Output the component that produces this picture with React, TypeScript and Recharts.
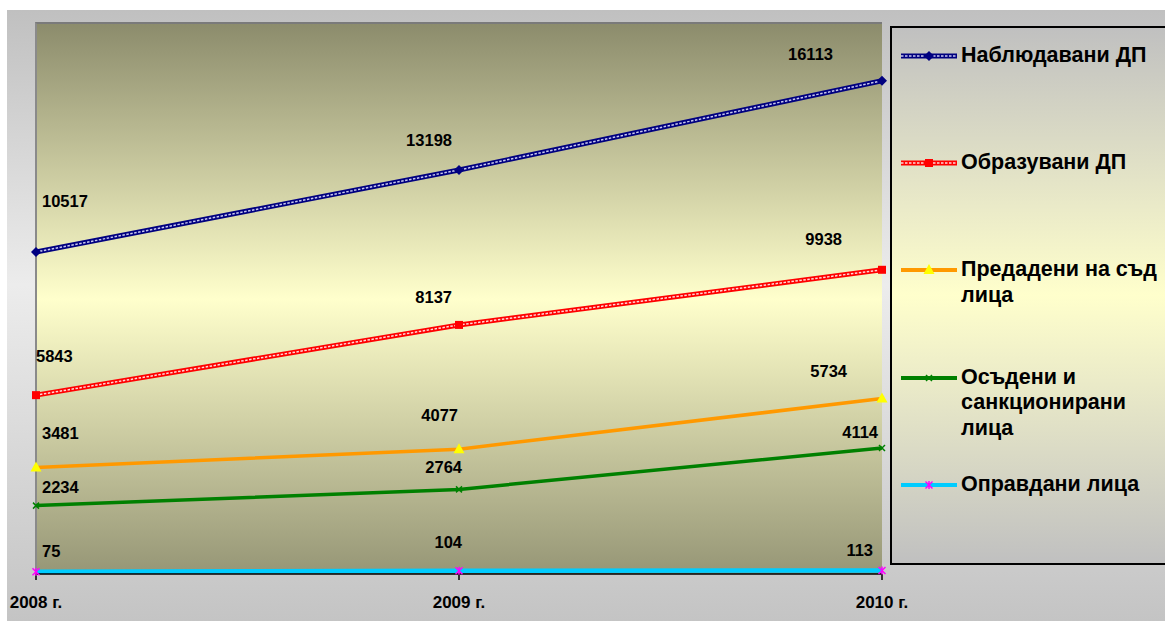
import React from 'react';
import { LineChart, Line, XAxis, YAxis, LabelList } from 'recharts';

const YEARS = ['2008 г.', '2009 г.', '2010 г.'];
const OBSERVED = [10517, 13198, 16113];
const INITIATED = [5843, 8137, 9938];
const REFERRED = [3481, 4077, 5734];
const CONVICTED = [2234, 2764, 4114];
const ACQUITTED = [75, 104, 113];

const NAMES = {
  observed: 'Наблюдавани ДП',
  initiated: 'Образувани ДП',
  referred: 'Предадени на съд лица',
  convicted: 'Осъдени и санкционирани лица',
  acquitted: 'Оправдани лица',
};

const data = YEARS.map((year, i) => ({
  year,
  observed: OBSERVED[i],
  initiated: INITIATED[i],
  referred: REFERRED[i],
  convicted: CONVICTED[i],
  acquitted: ACQUITTED[i],
}));

const FONT = '"Liberation Sans", Arial, sans-serif';

// label placement per series / point: [dx, dy, anchor]
const LABEL_POS: Record<string, Array<[number, number, string]>> = {
  observed: [[6, -51, 'start'], [-7, -30, 'end'], [-49, -27, 'end']],
  initiated: [[0, -39, 'start'], [-7, -28, 'end'], [-40, -31, 'end']],
  referred: [[6, -34, 'start'], [-1, -34, 'end'], [-35, -27, 'end']],
  convicted: [[6, -19, 'start'], [3, -22, 'end'], [-4, -16, 'end']],
  acquitted: [[6, -21, 'start'], [3, -29, 'end'], [-9, -21, 'end']],
};

const makeLabel = (key: string) => (props: any) => {
  const { x, y, value, index } = props;
  const [dx, dy, anchor] = LABEL_POS[key][index] || [0, -20, 'middle'];
  return (
    <text x={x + dx} y={y + dy + 6} textAnchor={anchor as any} fontFamily={FONT}
      fontWeight="bold" fontSize={16.5} fill="#000">
      {value}
    </text>
  );
};

const Marker = ({ kind, cx, cy }: { kind: string; cx: number; cy: number }) => {
  if (cx == null || cy == null) return null;
  switch (kind) {
    case 'diamond':
      return <polygon points={`${cx},${cy - 5} ${cx + 5},${cy} ${cx},${cy + 5} ${cx - 5},${cy}`} fill="#000080" />;
    case 'square':
      return <rect x={cx - 4} y={cy - 4} width={8} height={8} fill="#ff0000" />;
    case 'triangle':
      return <polygon points={`${cx},${cy - 6} ${cx + 5.5},${cy + 4} ${cx - 5.5},${cy + 4}`} fill="#ffff00" />;
    case 'x':
      return (
        <g stroke="#008000" strokeWidth={1.5}>
          <line x1={cx - 3} y1={cy - 3} x2={cx + 3} y2={cy + 3} />
          <line x1={cx - 3} y1={cy + 3} x2={cx + 3} y2={cy - 3} />
        </g>
      );
    default:
      return (
        <g stroke="#ff00ff" strokeWidth={1.5}>
          <line x1={cx - 3.5} y1={cy - 3.5} x2={cx + 3.5} y2={cy + 3.5} />
          <line x1={cx - 3.5} y1={cy + 3.5} x2={cx + 3.5} y2={cy - 3.5} />
          <line x1={cx} y1={cy - 4} x2={cx} y2={cy + 4} />
        </g>
      );
  }
};

const SERIES = [
  { key: 'observed', color: '#000080', hatch: '#c8c8f0', width: 5, marker: 'diamond', lines: ['Наблюдавани ДП'] },
  { key: 'initiated', color: '#ff0000', hatch: '#ffd8d8', width: 5, marker: 'square', lines: ['Образувани ДП'] },
  { key: 'referred', color: '#ff9900', hatch: null, width: 3.5, marker: 'triangle', lines: ['Предадени на съд', 'лица'] },
  { key: 'convicted', color: '#008000', hatch: null, width: 3.5, marker: 'x', lines: ['Осъдени и', 'санкционирани', 'лица'] },
  { key: 'acquitted', color: '#00ccff', hatch: null, width: 4.5, marker: 'star', lines: ['Оправдани лица'] },
];

const YearTick = (props: any) => {
  const { x, y, payload } = props;
  return (
    <text x={x} y={y + 26} textAnchor="middle" fontFamily={FONT} fontWeight="bold"
      fontSize={17} fill="#000">
      {payload.value}
    </text>
  );
};

const LegendBox = () => (
  <div style={{
    position: 'absolute', left: 890, top: 26, width: 280, height: 535, border: '2px solid #000',
    background: 'linear-gradient(to bottom, #c0c0c0 0%, #ffffcc 50%, #c0c0c0 100%)',
    fontFamily: FONT, fontWeight: 'bold', fontSize: 21.5, color: '#000',
  }}>
    {SERIES.map((s) => (
      <div key={s.key} style={{ height: 107.2, position: 'relative' }}>
        <svg width={60} height={12} style={{ position: 'absolute', left: 7, top: 22 }}>
          <line x1={2} y1={6} x2={58} y2={6} stroke={s.color} strokeWidth={s.hatch ? 5 : 4} />
          {s.hatch && <line x1={2} y1={6} x2={58} y2={6} stroke={s.hatch} strokeWidth={1.5} strokeDasharray="2.5 1.5" />}
          <Marker kind={s.marker} cx={30} cy={6} />
        </svg>
        <div style={{ position: 'absolute', left: 69, top: 15, lineHeight: '25.5px', whiteSpace: 'nowrap' }}>
          {s.lines.map((l) => <div key={l}>{l}</div>)}
        </div>
      </div>
    ))}
  </div>
);

export default function App() {
  return (
    <div style={{ position: 'absolute', left: 0, top: 0, width: 1165, height: 621, background: '#fff', overflow: 'hidden' }}>
      <div style={{
        position: 'absolute', left: 7, top: 10, width: 1158, height: 611,
        background: 'linear-gradient(to bottom, #c0c0c0 0%, #ececec 45%, #c4c4c4 100%)',
      }} />
      <div style={{
        position: 'absolute', left: 35, top: 22, width: 847, height: 552,
        borderTop: '2px solid #7a7a7a', borderLeft: '2px solid #8a8a8a', boxSizing: 'border-box',
        background: 'linear-gradient(to bottom, #8c8c6c 0%, #ffffcc 50%, #969676 100%)',
      }} />
      <LegendBox />
      <div style={{ position: 'absolute', left: 0, top: 0 }}>
        <LineChart width={1165} height={621} data={data}
          margin={{ top: 23, right: 283, left: 36, bottom: 17 }} style={{ overflow: 'visible' }}>
          <XAxis dataKey="year" stroke="#000" strokeWidth={1.5} tickSize={6} tick={<YearTick />}
            tickLine={{ stroke: '#000' }} height={30} interval={0} />
          <YAxis hide domain={[0, 18000]} />
          {SERIES.map((s) => (
            <Line key={s.key} dataKey={s.key} name={NAMES[s.key as keyof typeof NAMES]} stroke={s.color}
              strokeWidth={s.width} isAnimationActive={false} legendType="none"
              dot={s.hatch ? false : (p: any) => <Marker key={`${s.key}-${p.index}`} kind={s.marker} cx={p.cx} cy={p.cy} />}
              activeDot={false}>
              {!s.hatch && <LabelList dataKey={s.key} content={makeLabel(s.key)} />}
            </Line>
          ))}
          {SERIES.filter((s) => s.hatch).map((s) => (
            <Line key={`${s.key}-hatch`} dataKey={s.key} stroke={s.hatch as string} strokeWidth={1.5}
              strokeDasharray="2.5 1.5" isAnimationActive={false} legendType="none"
              dot={(p: any) => <Marker key={`${s.key}-h-${p.index}`} kind={s.marker} cx={p.cx} cy={p.cy} />}
              activeDot={false}>
              <LabelList dataKey={s.key} content={makeLabel(s.key)} />
            </Line>
          ))}
        </LineChart>
      </div>
    </div>
  );
}
